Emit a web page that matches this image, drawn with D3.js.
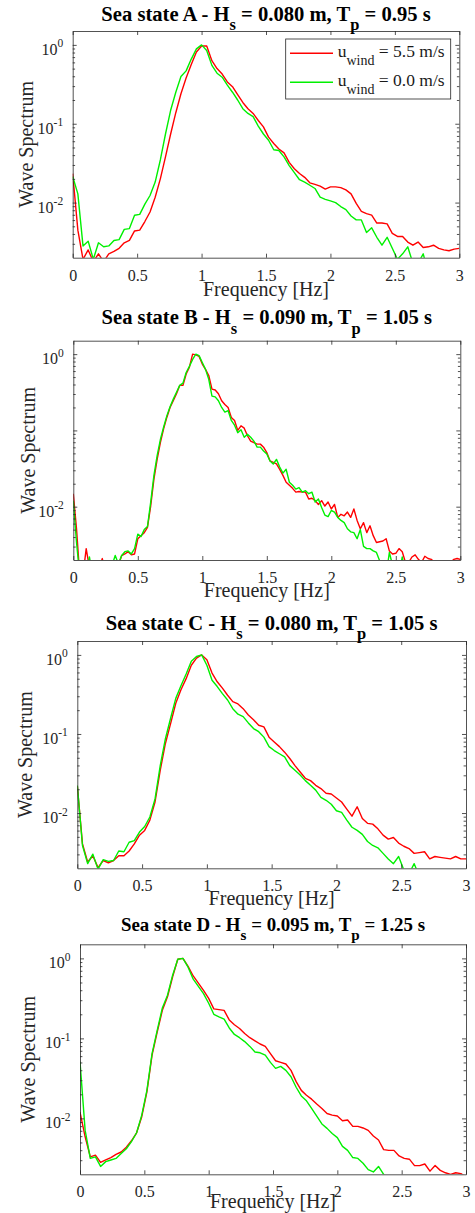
<!DOCTYPE html>
<html>
<head>
<meta charset="utf-8">
<script src="https://cdn.jsdelivr.net/npm/d3@7"></script>
<style>
  html, body { margin: 0; padding: 0; background: #fff; }
  svg { display: block; }
  text { font-family: "Liberation Serif", "Times New Roman", serif; white-space: pre; }
</style>
</head>
<body>
<svg id="fig" width="475" height="1213"></svg>
<script>
// ---- frequency bins [Hz] ----
const freqCoarse = [
  0,0.04,0.08,0.12,0.16,0.2,0.24,0.28,0.32,0.36,0.4,0.44,0.48,0.52,0.56,0.6,0.64,0.68,0.72,0.76,0.8,0.84,0.88,0.92,0.96,
  1,1.04,1.08,1.12,1.16,1.2,1.24,1.28,1.32,1.36,1.4,1.44,1.48,1.52,1.56,1.6,1.64,1.68,1.72,1.76,1.8,1.84,1.88,1.92,1.96,
  2,2.04,2.08,2.12,2.16,2.2,2.24,2.28,2.32,2.36,2.4,2.44,2.48,2.52,2.56,2.6,2.64,2.68,2.72,2.76,2.8,2.84,2.88,2.92,2.96,
  3];
const freqFine = [
  0,0.025,0.05,0.075,0.1,0.125,0.15,0.175,0.2,0.225,0.25,0.275,0.3,0.325,0.35,0.375,0.4,0.425,0.45,0.475,
  0.5,0.525,0.55,0.575,0.6,0.625,0.65,0.675,0.7,0.725,0.75,0.775,0.8,0.825,0.85,0.875,0.9,0.925,0.95,0.975,
  1,1.025,1.05,1.075,1.1,1.125,1.15,1.175,1.2,1.225,1.25,1.275,1.3,1.325,1.35,1.375,1.4,1.425,1.45,1.475,
  1.5,1.525,1.55,1.575,1.6,1.625,1.65,1.675,1.7,1.725,1.75,1.775,1.8,1.825,1.85,1.875,1.9,1.925,1.95,1.975,
  2,2.025,2.05,2.075,2.1,2.125,2.15,2.175,2.2,2.225,2.25,2.275,2.3,2.325,2.35,2.375,2.4,2.425,2.45,2.475,
  2.5,2.525,2.55,2.575,2.6,2.625,2.65,2.675,2.7,2.725,2.75,2.775,2.8,2.825,2.85,2.875,2.9,2.925,2.95,2.975,
  3];

// ---- normalised wave spectra, wind 5.5 m/s and no wind ----
const specA_wind = [
  0.0233,0.00447,0.00191,0.00251,0.00178,0.00224,0.00178,0.00224,0.00240,0.00263,0.00309,0.00331,0.00437,0.00447,0.00575,0.00759,0.0117,0.0200,0.0380,0.0741,0.138,0.240,0.380,0.562,0.813,
  0.970,0.970,0.631,0.501,0.427,0.339,0.295,0.234,0.186,0.155,0.135,0.110,0.0912,0.0676,0.0562,0.0479,0.0427,0.0324,0.0269,0.0234,0.0209,0.0178,0.0170,0.0162,0.0148,
  0.0158,0.0158,0.0155,0.0145,0.0129,0.00977,0.00776,0.00724,0.00692,0.00550,0.00550,0.00537,0.00407,0.00372,0.00372,0.00316,0.00288,0.00316,0.00269,0.00275,0.00288,0.00263,0.00251,0.00245,0.00257,
  0.00263];
const specA_calm = [
  0.0214,0.0129,0.00282,0.00324,0.00191,0.00309,0.00275,0.00282,0.00331,0.00339,0.00457,0.00468,0.00692,0.00708,0.00955,0.0123,0.0182,0.0347,0.0741,0.148,0.251,0.398,0.468,0.661,0.891,
  1.0,0.851,0.550,0.437,0.389,0.309,0.251,0.200,0.155,0.135,0.123,0.0933,0.0741,0.0617,0.0468,0.0457,0.0380,0.0295,0.0240,0.0195,0.0182,0.0166,0.0151,0.0117,0.0110,
  0.0105,0.0100,0.00891,0.00813,0.00676,0.00603,0.00603,0.00417,0.00479,0.00363,0.00288,0.00363,0.00263,0.00191,0.00224,0.00275,0.00170,0.00170,0.00224,0.00126,0.00100,0.00100,0.00100,0.00100,0.00100,
  0.00100];

const specB_wind = [
  0.0148,0.00513,0.00126,0.00126,0.00282,0.00158,0.00126,0.00126,0.00158,0.00209,
  0.00126,0.00126,0.00126,0.00126,0.00170,0.00229,0.00240,0.00257,0.00234,0.00240,
  0.00380,0.00417,0.00457,0.00537,0.0102,0.0229,0.0417,0.0692,0.105,0.148,
  0.200,0.245,0.302,0.389,0.389,0.550,0.676,1.0,0.977,0.933,
  0.741,0.631,0.525,0.347,0.339,0.302,0.245,0.219,0.200,0.148,
  0.135,0.100,0.115,0.107,0.0851,0.0724,0.0692,0.0661,0.0661,0.0603,
  0.0513,0.0398,0.0380,0.0363,0.0309,0.0257,0.0209,0.0191,0.0174,0.0155,
  0.0158,0.0155,0.0155,0.0126,0.0129,0.0120,0.0107,0.0120,0.0102,0.0115,
  0.00933,0.0107,0.00724,0.00794,0.00759,0.00851,0.00724,0.00933,0.00661,0.00513,
  0.00617,0.00457,0.00562,0.00417,0.00339,0.00347,0.00355,0.00380,0.00263,0.00240,
  0.00245,0.00282,0.00257,0.00186,0.00186,0.00219,0.00234,0.00204,0.00186,0.00224,
  0.00209,0.00204,0.00186,0.00178,0.00170,0.00186,0.00170,0.00186,0.00204,0.00209,
  0.00204];
const specB_calm = [
  0.0120,0.00339,0.00126,0.00126,0.00126,0.00219,0.00126,0.00126,0.00126,0.00126,
  0.00126,0.00126,0.00170,0.00229,0.00178,0.00229,0.00257,0.00263,0.00240,0.00282,
  0.00437,0.00407,0.00501,0.00550,0.0115,0.0257,0.0468,0.0759,0.110,0.155,
  0.204,0.257,0.316,0.389,0.417,0.575,0.692,0.851,1.0,0.955,
  0.776,0.631,0.468,0.282,0.275,0.245,0.200,0.174,0.182,0.135,
  0.117,0.0933,0.102,0.0813,0.0891,0.0813,0.0724,0.0603,0.0603,0.0537,
  0.0490,0.0398,0.0363,0.0417,0.0331,0.0275,0.0309,0.0209,0.0191,0.0170,
  0.0178,0.0155,0.0162,0.0148,0.0155,0.0115,0.0126,0.00977,0.00776,0.00741,
  0.00891,0.00851,0.00724,0.00661,0.00617,0.00513,0.00468,0.00457,0.00380,0.00501,
  0.00302,0.00282,0.00282,0.00263,0.00251,0.00195,0.00170,0.00126,0.00251,0.00170,
  0.00126,0.00126,0.00219,0.00126,0.00126,0.00126,0.00126,0.00126,0.00126,0.00126,
  0.00126,0.00126,0.00126,0.00126,0.00126,0.00126,0.00126,0.00126,0.00126,0.00126,
  0.00126];

const specC_wind = [
  0.0219,0.00407,0.00240,0.00288,0.00204,0.00251,0.00234,0.00251,0.00288,0.00288,0.00331,0.00407,0.00525,0.00603,0.00813,0.0138,0.0347,0.0759,0.135,0.245,0.363,0.501,0.741,0.912,1.0,
  0.871,0.589,0.457,0.380,0.309,0.257,0.240,0.209,0.174,0.151,0.129,0.123,0.0912,0.0794,0.0692,0.0589,0.0490,0.0398,0.0331,0.0275,0.0257,0.0224,0.0204,0.0178,0.0174,
  0.0155,0.0138,0.0112,0.00912,0.0120,0.00851,0.00741,0.00724,0.00631,0.00525,0.00468,0.00490,0.00417,0.00380,0.00355,0.00309,0.00316,0.00324,0.00263,0.00282,0.00275,0.00269,0.00263,0.00282,0.00263,
  0.00263];
const specC_calm = [
  0.0224,0.00389,0.00229,0.00302,0.00195,0.00257,0.00245,0.00251,0.00331,0.00324,0.00427,0.00447,0.00575,0.00676,0.00891,0.0151,0.0398,0.0871,0.158,0.282,0.407,0.575,0.832,0.955,1.0,
  0.741,0.479,0.398,0.324,0.269,0.209,0.178,0.166,0.138,0.117,0.107,0.0912,0.0692,0.0617,0.0562,0.0513,0.0398,0.0347,0.0302,0.0257,0.0224,0.0195,0.0158,0.0145,0.0129,
  0.0107,0.0102,0.00813,0.00661,0.00603,0.00537,0.00437,0.00389,0.00363,0.00309,0.00263,0.00229,0.00282,0.00191,0.00170,0.00229,0.00158,0.00126,0.00100,0.00100,0.00100,0.00100,0.00100,0.00100,0.00100,
  0.00100];

const specD_wind = [
  0.0120,0.00589,0.00331,0.00347,0.00282,0.00302,0.00324,0.00355,0.00380,0.00437,0.00525,0.00661,0.0105,0.0214,0.0617,0.120,0.224,0.331,0.589,0.977,1.0,0.794,0.603,0.490,0.398,
  0.316,0.234,0.229,0.224,0.170,0.148,0.133,0.115,0.102,0.0933,0.0851,0.0794,0.0646,0.0525,0.0501,0.0479,0.0398,0.0288,0.0224,0.0195,0.0174,0.0151,0.0133,0.0115,0.0110,
  0.0107,0.00933,0.00955,0.00794,0.00794,0.00759,0.00708,0.00603,0.00537,0.00407,0.00398,0.00398,0.00339,0.00316,0.00309,0.00257,0.00257,0.00269,0.00219,0.00257,0.00224,0.00209,0.00200,0.00209,0.00204,
  0.00186];
const specD_calm = [
  0.0513,0.00708,0.00316,0.00331,0.00251,0.00288,0.00302,0.00316,0.00363,0.00417,0.00513,0.00661,0.0110,0.0224,0.0646,0.126,0.240,0.347,0.617,0.977,1.0,0.776,0.550,0.447,0.363,
  0.275,0.200,0.186,0.174,0.135,0.112,0.102,0.0912,0.0794,0.0676,0.0661,0.0617,0.0501,0.0422,0.0447,0.0398,0.0331,0.0245,0.0191,0.0166,0.0133,0.0107,0.00851,0.0075,0.00646,
  0.00575,0.00447,0.00398,0.00324,0.00316,0.00275,0.00229,0.00214,0.00251,0.00200,0.00158,0.00126,0.00100,0.00100,0.00100,0.00100,0.00100,0.00100,0.00100,0.00100,0.00100,0.00100,0.00100,0.00100,0.00100,
  0.00100];

// ---- labels ----
const seriesNames = ["5.5 m/s", "0.0 m/s"];
const titles = [
  ["Sea state A - H", "s", " = 0.080 m, T", "p", " = 0.95 s"],
  ["Sea state B - H", "s", " = 0.090 m, T", "p", " = 1.05 s"],
  ["Sea state C - H", "s", " = 0.080 m, T", "p", " = 1.05 s"],
  ["Sea state D - H", "s", " = 0.095 m, T", "p", " = 1.25 s"]
];
const xTickValues = [0, 0.5, 1, 1.5, 2, 2.5, 3];
const xTickLabels = ["0", "0.5", "1", "1.5", "2", "2.5", "3"];
const yTickValues = [1, 0.1, 0.01];
const yTickExponents = ["0", "-1", "-2"];
const xLabel = "Frequency [Hz]";
const yLabel = "Wave Spectrum";

// ---- layout of the four stacked axes ----
const layout = [
  { left: 72.7, right: 459.3, top: 31,    bottom: 257.7,  titleY: 20.7,  titleSize: 20.6, xlabDy: 38,   ylabX: 32.7, yLabelShown: [1,1,1], legend: true },
  { left: 73.3, right: 460.3, top: 340.7, bottom: 560,    titleY: 324.3, titleSize: 20.6, xlabDy: 36.7, ylabX: 34.5, yLabelShown: [1,0,1], legend: false },
  { left: 77.3, right: 466,   top: 641,   bottom: 868.3,  titleY: 630,   titleSize: 20.6, xlabDy: 36.7, ylabX: 32.3, yLabelShown: [1,1,1], legend: false },
  { left: 80,   right: 466,   top: 944.3, bottom: 1174.3, titleY: 931,   titleSize: 18.9, xlabDy: 34,   ylabX: 34.7, yLabelShown: [1,1,1], legend: false }
];
const panelData = [
  { freq: freqCoarse, wind: specA_wind, calm: specA_calm },
  { freq: freqFine,   wind: specB_wind, calm: specB_calm },
  { freq: freqCoarse, wind: specC_wind, calm: specC_calm },
  { freq: freqCoarse, wind: specD_wind, calm: specD_calm }
];

const FONT = '"Liberation Serif", "Times New Roman", serif';
const AXC = "#262626";
const RED = "#ff0000", GREEN = "#00f000";
const svg = d3.select("#fig");
svg.append("rect").attr("width", 475).attr("height", 1213).attr("fill", "#fff");

// minor tick positions of the log axis (2..9 x 10^k)
const minorTicks = [];
[-3, -2, -1, 0].forEach(k => {
  for (let m = 2; m <= 9; m++) {
    const v = m * Math.pow(10, k);
    if (v > 0.002 && v < 1.5) minorTicks.push(v);
  }
});

function styleAxis(g) {
  g.attr("font-family", null).attr("font-size", null);
  g.select(".domain").attr("stroke", AXC).attr("stroke-width", 0.8);
  g.selectAll(".tick line").attr("stroke", AXC).attr("stroke-width", 0.8);
  g.selectAll(".tick text").attr("fill", AXC)
    .style("font-family", FONT).style("font-size", "16px");
}

layout.forEach((L, idx) => {
  const D = panelData[idx];
  const x = d3.scaleLinear().domain([0, 3]).range([L.left, L.right]);
  const y = d3.scaleLog().domain([0.002, 1.5]).range([L.bottom, L.top]);
  const g = svg.append("g");

  const clipId = "plotclip" + idx;
  svg.append("clipPath").attr("id", clipId)
    .append("rect").attr("x", L.left).attr("y", L.top)
    .attr("width", L.right - L.left).attr("height", L.bottom - L.top);

  // spectra
  const line = d3.line().x((d, i) => x(D.freq[i])).y(d => y(d));
  const curves = g.append("g").attr("clip-path", `url(#${clipId})`);
  curves.append("path").datum(D.wind).attr("d", line)
    .attr("fill", "none").attr("stroke", RED).attr("stroke-width", 1.4).attr("stroke-linejoin", "round");
  curves.append("path").datum(D.calm).attr("d", line)
    .attr("fill", "none").attr("stroke", GREEN).attr("stroke-width", 1.4).attr("stroke-linejoin", "round");

  // axes (ticks point inwards on all four sides)
  g.append("g").attr("transform", `translate(0,${L.bottom})`)
    .call(d3.axisBottom(x).tickValues(xTickValues).tickFormat((d, i) => xTickLabels[i])
      .tickSize(-4).tickSizeOuter(0).tickPadding(11.6))
    .call(styleAxis);
  g.append("g").attr("transform", `translate(0,${L.top})`)
    .call(d3.axisTop(x).tickValues(xTickValues).tickFormat("").tickSize(-4).tickSizeOuter(0))
    .call(styleAxis);
  const yl = g.append("g").attr("transform", `translate(${L.left},0)`)
    .call(d3.axisLeft(y).tickValues(yTickValues).tickFormat("").tickSize(-4).tickSizeOuter(0))
    .call(styleAxis);
  g.append("g").attr("transform", `translate(${L.left},0)`)
    .call(d3.axisLeft(y).tickValues(minorTicks).tickFormat("").tickSize(-2.4).tickSizeOuter(0))
    .call(styleAxis).call(a => a.select(".domain").remove());
  g.append("g").attr("transform", `translate(${L.right},0)`)
    .call(d3.axisRight(y).tickValues(yTickValues).tickFormat("").tickSize(-4).tickSizeOuter(0))
    .call(styleAxis);
  g.append("g").attr("transform", `translate(${L.right},0)`)
    .call(d3.axisRight(y).tickValues(minorTicks).tickFormat("").tickSize(-2.4).tickSizeOuter(0))
    .call(styleAxis).call(a => a.select(".domain").remove());

  // 10^k labels
  yl.selectAll(".tick").each(function (d, i) {
    if (!L.yLabelShown[i]) return;
    const t = d3.select(this).append("text")
      .attr("x", -9.5).attr("y", 9.5).attr("text-anchor", "end")
      .attr("fill", AXC).style("font-family", FONT).style("font-size", "16px");
    t.append("tspan").text("10");
    t.append("tspan").attr("dy", -7.5).style("font-size", "11.5px").text(yTickExponents[i]);
  });

  // title with subscripts
  const sub = (L.titleSize * 0.8) + "px";
  const tt = g.append("text").attr("x", (L.left + L.right) / 2).attr("y", L.titleY)
    .attr("text-anchor", "middle").attr("font-weight", "bold").attr("fill", "#000")
    .style("font-family", FONT).style("font-size", L.titleSize + "px");
  const parts = titles[idx];
  tt.append("tspan").text(parts[0]);
  tt.append("tspan").attr("dy", 9.3).style("font-size", sub).text(parts[1]);
  tt.append("tspan").attr("dy", -9.3).text(parts[2]);
  tt.append("tspan").attr("dy", 9.3).style("font-size", sub).text(parts[3]);
  tt.append("tspan").attr("dy", -9.3).text(parts[4]);

  // axis labels
  g.append("text").attr("x", (L.left + L.right) / 2).attr("y", L.bottom + L.xlabDy)
    .attr("text-anchor", "middle").attr("fill", AXC)
    .style("font-family", FONT).style("font-size", "20px").text(xLabel);
  g.append("text")
    .attr("transform", `translate(${L.ylabX},${(L.top + L.bottom) / 2}) rotate(-90)`)
    .attr("text-anchor", "middle").attr("fill", AXC)
    .style("font-family", FONT).style("font-size", "20px").text(yLabel);

  // legend
  if (L.legend) {
    const lg = g.append("g");
    lg.append("rect").attr("x", 285.7).attr("y", 39).attr("width", 165).attr("height", 60)
      .attr("fill", "#fff").attr("stroke", AXC).attr("stroke-width", 0.8);
    [RED, GREEN].forEach((c, k) => {
      const yy = 53.3 + k * 29;
      lg.append("line").attr("x1", 290).attr("x2", 333).attr("y1", yy).attr("y2", yy)
        .attr("stroke", c).attr("stroke-width", 1.4);
      const t = lg.append("text").attr("x", 337.7).attr("y", yy + 3.4)
        .attr("fill", "#1a1a1a").style("font-family", FONT).style("font-size", "17.5px");
      t.append("tspan").text("u");
      t.append("tspan").attr("dy", 8.3).style("font-size", "14px").text("wind");
      t.append("tspan").attr("dy", -8.3).text(" = " + seriesNames[k]);
    });
  }
});
</script>
</body>
</html>
